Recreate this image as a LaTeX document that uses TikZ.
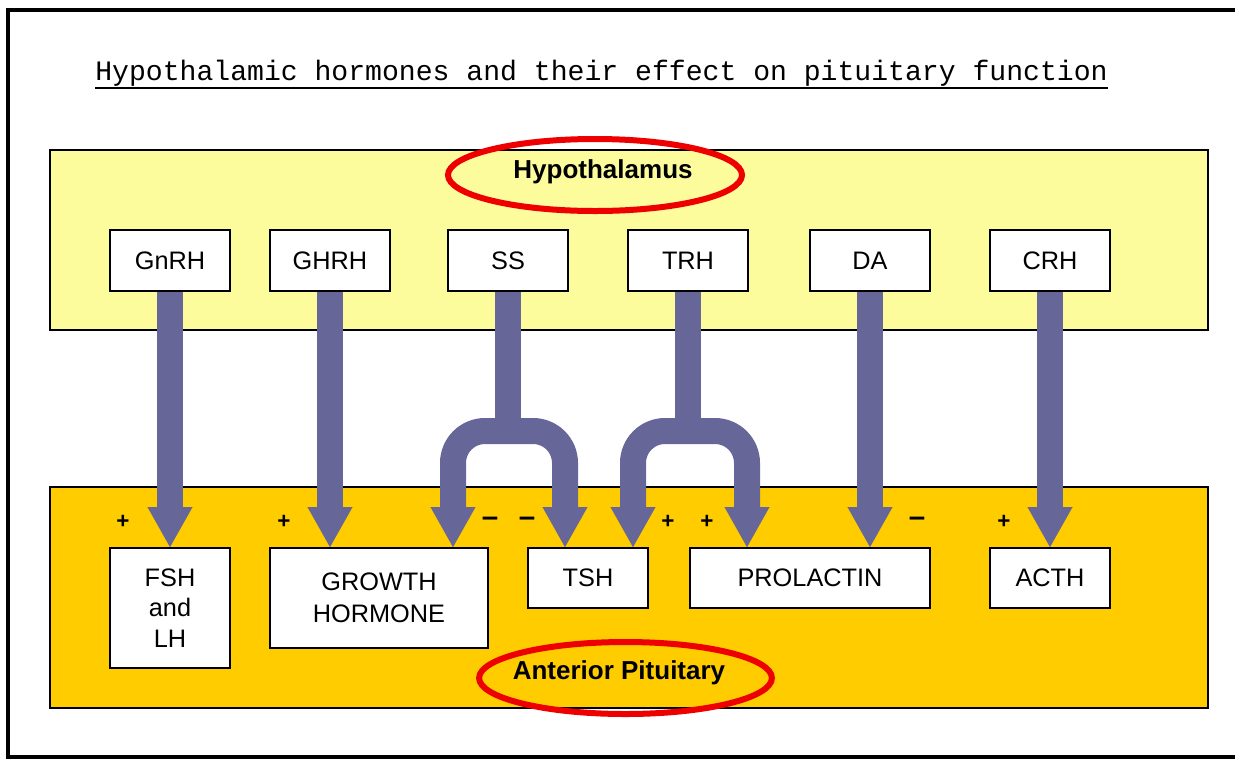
\documentclass[tikz,border=0pt]{standalone}
\usepackage{fontspec}
\setmainfont{Liberation Sans}
\newfontfamily\titlefont{Liberation Mono}
\usepackage{tikz}
\usetikzlibrary{arrows.meta, positioning, calc, backgrounds}

\definecolor{paleyellow}{RGB}{252,252,156}
\definecolor{gold}{RGB}{255,204,0}
\definecolor{flowblue}{RGB}{102,102,153}
\definecolor{ringred}{RGB}{238,0,0}

\tikzset{
  hormone/.style={draw, fill=white, line width=0.5mm, inner sep=0pt, minimum width=30mm, minimum height=15.25mm, font=\fontsize{18}{21.5}\selectfont, align=center},
  flow/.style={draw=flowblue, line width=6.5mm, -{Triangle[width=11.25mm, length=10mm, line width=0.1pt]}},
  stem/.style={draw=flowblue, line width=6.5mm},
  ring/.style={draw=ringred, line width=1.5mm},
  sign/.style={font=\fontsize{16}{16}\selectfont\bfseries, inner sep=0pt},
  region/.style={draw, line width=0.5mm},
  place/.style={font=\fontsize{18.5}{20}\selectfont\bfseries}
}

\begin{document}
\begin{tikzpicture}[x=0.25mm, y=-0.25mm]
\useasboundingbox (0,0) rectangle (1235,763);

% Frame and title
\draw[line width=1mm] (1235,10) -- (8,10) -- (8,757) -- (1235,757);
\node[font=\titlefont\fontsize{20}{24}\selectfont, anchor=base, inner sep=0pt] (title) at (601.5,80) {Hypothalamic hormones and their effect on pituitary function};
\draw[line width=0.5mm] ([yshift=-2mm]title.base west) -- ([yshift=-2mm]title.base east);

% Hypothalamic hormones
\foreach \x/\name/\lbl in {170/gnrh/GnRH, 330/ghrh/GHRH, 508/ss/SS, 688/trh/TRH, 870/da/DA, 1050/crh/CRH} {
    \node[hormone] (\name) at (\x,260.5) {\lbl};
}

% Pituitary hormones
\node[hormone, minimum height=30mm] (fsh) at (170,608) {FSH\\and\\LH};
\node[hormone, minimum width=54.5mm, minimum height=25mm, font=\fontsize{18}{23}\selectfont] (gh) at (379,598) {GROWTH\\HORMONE};
\node[hormone, minimum height=15mm] (tsh) at (588,578) {TSH};
\node[hormone, minimum width=60mm, minimum height=15mm] (prl) at (810,578) {PROLACTIN};
\node[hormone, minimum height=15mm] (acth) at (1050,578) {ACTH};

\coordinate (ssfork) at ([yshift=-34.75mm]ss.south);
\coordinate (trhfork) at ([yshift=-34.75mm]trh.south);

\begin{scope}[on background layer]
% Regions
\draw[region, fill=paleyellow] (50,150) rectangle (1208,330);
\draw[region, fill=gold] (50,487) rectangle (1208,708);

% Straight arrows
\draw[flow] (gnrh.south) -- (fsh.north);
\draw[flow] (ghrh.south) -- (ghrh.south |- gh.north);
\draw[flow] (da.south) -- (da.south |- prl.north);
\draw[flow] (crh.south) -- (acth.north);

% Split arrows
\draw[stem] (ss.south) -- (ssfork);
\draw[flow, rounded corners=8mm] (ssfork) -| ([xshift=-9mm]gh.north east);
\draw[flow, rounded corners=8mm] (ssfork) -| ([xshift=9.5mm]tsh.north west);
\draw[stem] (trh.south) -- (trhfork);
\draw[flow, rounded corners=8mm] (trhfork) -| ([xshift=-4mm]tsh.north east);
\draw[flow, rounded corners=8mm] (trhfork) -| ([xshift=14.5mm]prl.north west);
\end{scope}

% Labels and rings
\node[place] (hyplabel) at (603,172) {Hypothalamus};
\draw[ring] (595,175) ellipse [x radius=36.75mm, y radius=9mm];
\node[place] (pitlabel) at (619,673) {Anterior Pituitary};
\draw[ring] (625.5,678) ellipse [x radius=36.6mm, y radius=9mm];

% Effects
\foreach \x/\s [count=\i] in {123/+, 284/+, 490/\fontsize{21}{21}\selectfont--, 527/\fontsize{21}{21}\selectfont--, 668/+, 707/+, 917/\fontsize{21}{21}\selectfont--, 1004/+} {
    \node[sign] (sign\i) at (\x,522) {\s};
}

\end{tikzpicture}
\end{document}
